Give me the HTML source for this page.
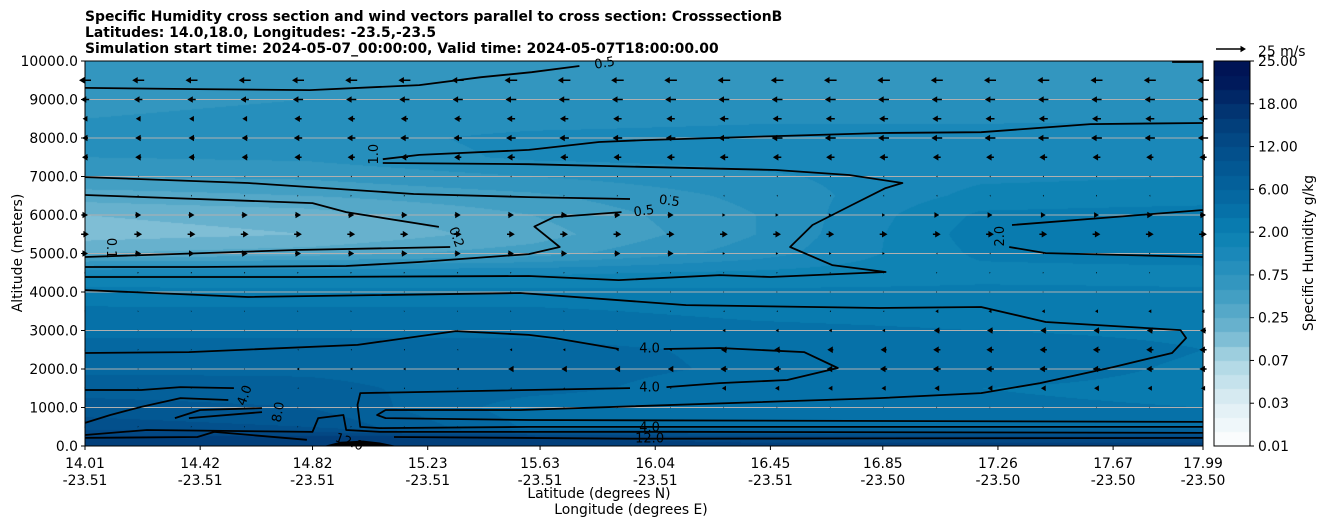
<!DOCTYPE html>
<html><head><meta charset="utf-8">
<style>
html,body{margin:0;padding:0;background:#fff;}
#wrap{position:relative;width:1326px;height:526px;overflow:hidden;font-family:"Liberation Sans","DejaVu Sans",sans-serif;}
canvas{position:absolute;left:0;top:0;}
svg{position:absolute;left:0;top:0;}
text{font-family:"DejaVu Sans","Liberation Sans",sans-serif;}
</style></head>
<body>
<div id="wrap">
<canvas id="field" width="1326" height="526"></canvas>
<svg id="svg" width="1326" height="526"></svg>
</div>
<script>
// ---------- data ----------
const fieldLats = [14.01, 14.8, 15.6, 16.4, 17.2, 17.99];
const fieldAlts = [0,250,500,1000,1500,2000,2500,3000,3500,4000,4500,5000,5500,6000,6500,7000,7500,8000,8500,9000,9500,10000];
const lev0 = [23,22,20.5,19.5,18.5,17.8,17.3,16.8,16.2,15.4,13.8,9,7.5,8,9.5,11,12,12.3,12,11.7,11.5,11.5];
const lev1 = [23,22,20,19,18.3,17.8,17.3,16.8,16.2,15.3,13.8,9.5,8,8.5,10,11.2,12.2,12.5,12.3,12,11.5,11.3];
const lev2 = [23,22,16.8,16.4,17.4,17.5,17.3,16.8,16.2,15.3,13.8,10.5,9.5,10,10.8,12,13.2,13.3,12.5,12,11.5,11.5];
const lev3 = [22.5,21,17,16.3,16.3,16.8,16.8,16.3,15.7,15.2,14.2,12.5,12,12,12.3,12.8,13.4,13.5,12.8,12,11.5,11.5];
const lev4 = [22.5,21,17,16.2,16,16.6,16.8,16,15.5,15.2,14.7,15.2,15.5,15.2,14.3,13.8,13.7,13.6,12.8,12,11.5,11.5];
const lev5 = [22.5,21,17,16,15.7,15.8,16,15.7,15.4,15.1,14.7,15.5,15.8,15.5,14.5,14,13.8,13.7,12.8,12,11.8,11.5];
const fieldLevels = [lev0,lev1,lev2,lev3,lev4,lev5];

const cbTicks = ["0.01","0.03","0.07","0.25","0.75","2.00","6.00","12.00","18.00","25.00"];
const yTicks = [0,1000,2000,3000,4000,5000,6000,7000,8000,9000,10000];
const xLatTicks = [14.01,14.42,14.82,15.23,15.63,16.04,16.45,16.85,17.26,17.67,17.99];
const xLonTicks = ["-23.51","-23.51","-23.51","-23.51","-23.51","-23.51","-23.51","-23.50","-23.50","-23.50","-23.50"];

const windAlts = [9500,9000,8500,8000,7500,7000,6500,6000,5500,5000,4500,4000,3500,3000,2500,2000,1500,1000,500];
const windU = [
 [-10,-10,-10.5,-10.5,-10,-10],
 [-7,-8.5,-9,-9,-8.5,-8.5],
 [-4,-6,-7,-7.5,-7.5,-7.5],
 [-5,-7,-8,-9,-9,-8.5],
 [-5,-6,-6.5,-7,-6.5,-6],
 [-0.8,-1,-1,-1,-1,-1],
 [0.8,0.8,0.8,-0.8,-0.8,-0.8],
 [5,5,5,2.5,4,5],
 [6.5,6.5,6.5,6.5,6.5,6.5],
 [5,5,5,2,-1,1],
 [1,1,0.8,0.8,0.8,0.8],
 [0.6,0.6,0.6,0.6,0.6,0.6],
 [0.6,0.6,0.6,-1,-2.5,-2.5],
 [0.6,0.6,0.6,-2.5,-5,-5],
 [0.6,-0.8,-2,-5,-6,-6],
 [0.6,-2,-4.5,-6,-6.5,-6],
 [0.6,-0.8,-1,-3.5,-4,-3.5],
 [0.6,0.6,0.6,0.6,0.6,0.6],
 [0.6,0.6,0.6,0.6,0.6,0.6]
];
const windCols = 22;

const contours = [
 [[14.01,9300],[14.41,9270],[14.81,9245],[15.20,9375],[15.42,9580],[15.60,9710],[15.77,9870]],
 [[15.07,7450],[15.20,7560],[15.59,7690],[15.84,7895],[16.00,7945],[16.47,8050],[16.85,8130],[17.20,8150],[17.59,8360],[17.99,8390]],
 [[17.88,9975],[17.99,9975]],
 [[14.01,6985],[14.59,6830],[15.18,6545],[15.59,6465],[15.95,6415]],
 [[14.01,6520],[14.82,6310],[14.94,6075],[15.27,5690]],
 [[14.01,4910],[14.76,5090],[15.31,5170]],
 [[14.01,4650],[14.41,4650],[14.94,4675],[15.20,4780],[15.59,4985],[15.70,5170],[15.61,5700],[15.68,5945],[15.92,6075]],
 [[14.01,4390],[14.78,4390],[15.59,4415],[15.91,4310],[16.27,4440],[16.45,4390],[16.86,4520],[16.67,4700],[16.52,5170],[16.60,5740],[16.74,6260],[16.86,6700],[16.92,6830],[16.73,7040],[16.47,7170],[15.59,7320],[15.07,7350]],
 [[14.01,4050],[14.59,3870],[15.56,3975],[16.15,3660],[16.84,3585],[17.20,3610],[17.43,3220],[17.91,3010],[17.93,2805],[17.88,2415],[17.67,2050],[17.41,1635],[17.20,1375],[16.84,1245],[15.56,935],[15.08,935],[15.05,805],[15.08,725],[15.59,675],[17.99,625]],
 [[14.01,2415],[14.38,2440],[14.98,2625],[15.33,2985],[15.59,2885],[15.68,2805],[15.91,2520]],
 [[16.07,2520],[16.27,2545],[16.57,2440],[16.69,2025],[16.51,1715],[16.27,1635],[16.08,1530]],
 [[15.95,1505],[14.99,1375],[14.98,1065],[14.99,495],[15.06,465],[15.59,495],[17.99,495]],
 [[14.01,600],[14.10,805],[14.21,1015],[14.35,1245],[14.52,1195]],
 [[14.01,1455],[14.21,1455],[14.35,1530],[14.54,1505]],
 [[14.33,725],[14.42,935],[14.64,985]],
 [[14.38,725],[14.64,880]],
 [[14.01,285],[14.23,415],[14.82,365],[14.84,725],[14.93,805],[14.94,415],[15.06,365],[15.59,365],[15.95,370],[16.09,370],[17.99,340]],
 [[14.01,210],[14.41,235],[14.47,365],[14.80,160]],
 [[15.11,235],[15.95,190],[16.09,190],[17.99,210]],
 [[17.99,4910],[17.43,5010],[17.30,5170]],
 [[17.31,5740],[17.67,5945],[17.99,6130]]
];
const terrain = [[14.86,0],[14.92,110],[15.0,140],[15.06,90],[15.12,0]];
const contourLabels = [
 ["0.5",15.86,9930,-10],["1.0",15.04,7580,-90],["0.5",16.09,6350,8],["0.5",16.0,6090,-8],
 ["0.2",15.33,5420,70],["0.1",14.10,5140,90],["2.0",17.27,5450,-90],["4.0",16.02,2520,0],
 ["4.0",16.02,1510,0],["4.0",14.58,1310,-70],["8.0",14.70,880,-80],["12.0",14.95,90,20],
 ["4.0",16.02,470,0],["12.0",16.02,180,0]
];

// ---------- scales ----------
const PL=85, PR=1203, PT=61, PB=446;
const X = lat => PL + (lat-14.01)/(17.99-14.01)*(PR-PL);
const Y = alt => PB - alt/10000*(PB-PT);

const stops = [[0,[255,255,255]],[3,[222,238,244]],[6,[172,214,227]],[8,[112,182,208]],[11,[58,154,192]],[13,[31,139,187]],[15,[10,128,178]],[17,[5,108,164]],[19,[3,92,150]],[21,[3,76,136]],[23,[2,58,118]],[26,[0,20,85]]];
function levColor(l){
  for(let i=0;i<stops.length-1;i++){
    const a=stops[i],b=stops[i+1];
    if(l<=b[0]){const t=(l-a[0])/(b[0]-a[0]);return a[1].map((v,k)=>Math.round(v+(b[1][k]-v)*t));}
  }
  return stops[stops.length-1][1];
}
const palette=[];for(let i=0;i<27;i++)palette.push(levColor(i+0.5));

const ctx=document.getElementById('field').getContext('2d');
function fieldAt(lat,alt){
  let i=0;while(i<fieldLats.length-2&&lat>fieldLats[i+1])i++;
  let j=0;while(j<fieldAlts.length-2&&alt>fieldAlts[j+1])j++;
  const tx=Math.min(1,Math.max(0,(lat-fieldLats[i])/(fieldLats[i+1]-fieldLats[i])));
  const ty=Math.min(1,Math.max(0,(alt-fieldAlts[j])/(fieldAlts[j+1]-fieldAlts[j])));
  const a=fieldLevels[i][j],b=fieldLevels[i+1][j],c=fieldLevels[i][j+1],d=fieldLevels[i+1][j+1];
  return (a*(1-tx)+b*tx)*(1-ty)+(c*(1-tx)+d*tx)*ty;
}
const W=PR-PL,H=PB-PT;
const img=ctx.createImageData(W,H);
for(let py=0;py<H;py++){
  const alt=(PB-(PT+py+0.5))/(PB-PT)*10000;
  for(let px=0;px<W;px++){
    const lat=14.01+(px+0.5)/W*(17.99-14.01);
    let l=Math.floor(fieldAt(lat,alt));l=Math.max(0,Math.min(26,l));
    const c=palette[l],k=(py*W+px)*4;
    img.data[k]=c[0];img.data[k+1]=c[1];img.data[k+2]=c[2];img.data[k+3]=255;
  }
}
ctx.putImageData(img,PL,PT);
const CBL=1214,CBR=1250;
for(let i=0;i<27;i++){
  const c=palette[i];ctx.fillStyle=`rgb(${c[0]},${c[1]},${c[2]})`;
  const y0=PB-(i+1)*(PB-PT)/27,y1=PB-i*(PB-PT)/27;
  ctx.fillRect(CBL,Math.floor(y0),CBR-CBL,Math.ceil(y1)-Math.floor(y0));
}

const NS='http://www.w3.org/2000/svg';
const svg=document.getElementById('svg');
function mk(tag,attrs,parent){const e=document.createElementNS(NS,tag);for(const k in attrs)e.setAttribute(k,attrs[k]);(parent||svg).appendChild(e);return e;}
function txt(s,x,y,attrs,parent){const e=mk('text',Object.assign({x:x,y:y,'font-size':13.9,fill:'#000'},attrs||{}),parent);e.textContent=s;return e;}

const grid=mk('g',{});


yTicks.forEach(v=>{
  const l=mk('line',{x1:PL,x2:PR,y1:Y(v),y2:Y(v),stroke:'#b0b0b0','stroke-width':1},grid);
  
  
});

const ter=mk('polygon',{points:terrain.map(p=>X(p[0])+','+Y(p[1])).join(' '),fill:'#000'});



const cg=mk('g',{fill:'none',stroke:'#000','stroke-width':1.8,'stroke-linejoin':'round'});


contours.forEach(c=>{
  const p=mk('polyline',{points:c.map(q=>X(q[0]).toFixed(1)+','+Y(q[1]).toFixed(1)).join(' ')},cg);
  
  
});
contourLabels.forEach(l=>{
  const x=X(l[1]),y=Y(l[2]);
  const t=txt(l[0],x,y,{'font-size':13,'text-anchor':'middle','dominant-baseline':'central',transform:`rotate(${l[3]} ${x} ${y})`});
  
  
});

const PXPERMS=30/25;
function arrow(x,y,u,parent){
  let L=u*PXPERMS;const dir=L<0?-1:1;L=Math.abs(L);
  let hl=5.5,hw=3.3,sw=0.75;
  if(L<hl){const s=Math.max(L,1)/hl;hl*=s;hw=Math.max(hw*s,0.9);sw=Math.max(sw*s,0.5);}
  const tip=x+dir*L/2, tail=x-dir*L/2, hb=tip-dir*hl;
  const pts=[[tail,y-sw],[hb,y-sw],[hb,y-hw],[tip,y],[hb,y+hw],[hb,y+sw],[tail,y+sw]];
  return mk('polygon',{points:pts.map(p=>p[0].toFixed(1)+','+p[1].toFixed(1)).join(' '),fill:'#000'},parent);
}
const ag=mk('g',{});


windAlts.forEach((alt,r)=>{
  for(let c=0;c<windCols;c++){
    const g=Math.min(5,Math.floor(c/4));
    const x=PL+c*(PR-PL)/(windCols-1);
    const a=arrow(x,Y(alt),windU[r][g],ag);
    
    
  }
});

const fr=mk('rect',{x:PL,y:PT,width:PR-PL,height:PB-PT,fill:'none',stroke:'#000','stroke-width':1});


const cbf=mk('rect',{x:CBL,y:PT,width:CBR-CBL,height:PB-PT,fill:'none',stroke:'#000','stroke-width':1});



yTicks.forEach(v=>{
  mk('line',{x1:PL-4,x2:PL,y1:Y(v),y2:Y(v),stroke:'#000'});
  const t=txt(v.toFixed(1),PL-7,Y(v)+5,{'text-anchor':'end'});
  
  
});
const yt=txt('Altitude (meters)',22,253,{'text-anchor':'middle',transform:'rotate(-90 22 253)'});



xLatTicks.forEach((v,i)=>{
  const x=X(v);
  mk('line',{x1:x,x2:x,y1:PB,y2:PB+4,stroke:'#000'});
  const t=txt(v.toFixed(2),x,468,{'text-anchor':'middle'});
  
  
  const t2=txt(xLonTicks[i],x,485,{'text-anchor':'middle'});
  
  
});
const xt1=txt('Latitude (degrees N)',599,498,{'text-anchor':'middle'});


const xt2=txt('Longitude (degrees E)',631,514,{'text-anchor':'middle'});



cbTicks.forEach((s,i)=>{
  const y=PB-i*(PB-PT)/9;
  mk('line',{x1:CBR,x2:CBR+4,y1:y,y2:y,stroke:'#000'});
  const t=txt(s,CBR+8,y+5,{});
  
  
});
const cbt=txt('Specific Humidity g/kg',1313,253,{'text-anchor':'middle',transform:'rotate(-90 1313 253)'});



const qk=arrow(1231,49,25,svg);


const qkt=txt('25 m/s',1258,56,{});



const titles=['Specific Humidity cross section and wind vectors parallel to cross section: CrosssectionB','Latitudes: 14.0,18.0, Longitudes: -23.5,-23.5','Simulation start time: 2024-05-07_00:00:00, Valid time: 2024-05-07T18:00:00.00'];
titles.forEach((s,i)=>{
  const t=txt(s,85,21+i*16,{'font-weight':'bold'});
  
  
});
</script>
</body></html>
